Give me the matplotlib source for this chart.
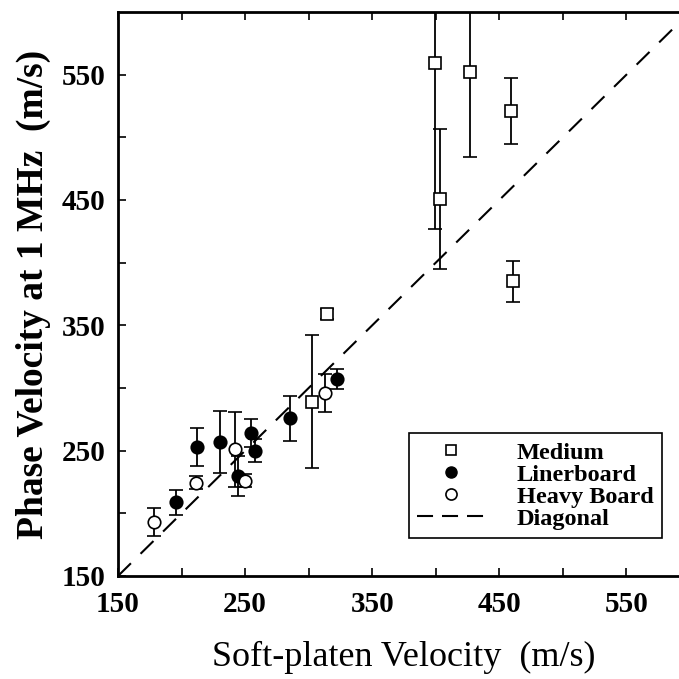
import matplotlib.pyplot as plt
from matplotlib.lines import Line2D
import numpy as np

# values (m/s)
medium_x = [399, 427, 459.5, 403.5, 461, 314.5, 303]
medium_y = [559, 552, 521, 451, 385, 359, 289]
medium_err = [132, 68, 26, 56, 16, 4, 53]

liner_x = [195.7, 212, 230, 244.7, 255, 258, 285.4, 322.4]
liner_y = [209, 253, 257, 230, 264, 250, 276, 307]
liner_err = [10, 15, 25, 16, 11, 9, 18, 8]

heavy_x = [178.6, 211, 242, 250, 313]
heavy_y = [193, 224.5, 251, 226, 296]
heavy_err = [11, 5, 30, 5, 15]

diag = [150, 600]

plt.rcParams['font.family'] = 'Liberation Serif'

fig = plt.figure(figsize=(6.79, 6.79), dpi=100)
ax = fig.add_axes([118/679, 1 - 576/679, 572/679, 564/679])

eb = dict(ecolor='black', elinewidth=1.3, capsize=4.7, capthick=1.3, ls='none', mec='black', mew=1.2)
ax.errorbar(medium_x, medium_y, yerr=medium_err, marker='s', ms=8, mfc='white', **eb)
ax.errorbar(liner_x, liner_y, yerr=liner_err, marker='o', ms=9, mfc='black', **eb)
ax.errorbar(heavy_x, heavy_y, yerr=heavy_err, marker='o', ms=9, mfc='white', **eb)
ax.plot(diag, diag, color='black', lw=1.5, dashes=(8.7, 6.5))

ax.set_xlim(150, 600)
ax.set_ylim(150, 600)
ax.set_xticks([150, 250, 350, 450, 550])
ax.set_yticks([150, 250, 350, 450, 550])
ax.set_xticks(np.arange(200, 600, 100), minor=True)
ax.set_yticks(np.arange(200, 600, 100), minor=True)
ax.tick_params(which='both', direction='in', top=True, right=True, width=1.2, length=6, labelsize=21)
ax.tick_params(axis='x', pad=11)
ax.tick_params(axis='y', pad=9)
for lab in ax.get_xticklabels() + ax.get_yticklabels():
    lab.set_fontweight('bold')
for s in ax.spines.values():
    s.set_linewidth(2)

ax.set_xlabel('Soft-platen Velocity  (m/s)', fontsize=26, labelpad=16)
ax.set_ylabel('Phase Velocity at 1 MHz  (m/s)', fontsize=27, fontweight='bold', labelpad=8)

handles = [
    Line2D([], [], ls='none', marker='s', ms=7, mfc='white', mec='black', mew=1.2),
    Line2D([], [], ls='none', marker='o', ms=8, mfc='black', mec='black'),
    Line2D([], [], ls='none', marker='o', ms=8, mfc='white', mec='black', mew=1.2),
    Line2D([], [], color='black', lw=1.5, dashes=(7.7, 4.3)),
]
labels = ['Medium', 'Linerboard', 'Heavy Board', 'Diagonal']
leg = ax.legend(handles, labels, loc='lower right', bbox_to_anchor=(0.951, 0.067), fancybox=False,
                edgecolor='black', framealpha=1, prop={'weight': 'bold', 'size': 17.5},
                handlelength=2.8, handletextpad=1.3, borderpad=0.35, labelspacing=0.0,
                borderaxespad=0)
leg.get_frame().set_linewidth(1.2)

fig.savefig('out.png', dpi=100)
